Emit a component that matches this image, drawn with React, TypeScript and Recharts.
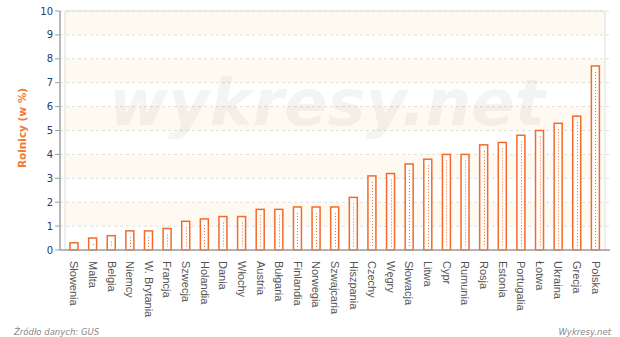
import React from "react";
import { BarChart, Bar, XAxis, YAxis, CartesianGrid, ReferenceArea } from "recharts";

// Share of farmers in total employment, by country (%)
const countries = [
  "Słowenia", "Malta", "Belgia", "Niemcy", "W. Brytania", "Francja", "Szwecja",
  "Holandia", "Dania", "Włochy", "Austria", "Bułgaria", "Finlandia", "Norwegia",
  "Szwajcaria", "Hiszpania", "Czechy", "Węgry", "Słowacja", "Litwa", "Cypr",
  "Rumunia", "Rosja", "Estonia", "Portugalia", "Łotwa", "Ukraina", "Grecja", "Polska",
];
const farmersShare = [
  0.3, 0.5, 0.6, 0.8, 0.8, 0.9, 1.2, 1.3, 1.4, 1.4, 1.7, 1.7, 1.8, 1.8, 1.8,
  2.2, 3.1, 3.2, 3.6, 3.8, 4.0, 4.0, 4.4, 4.5, 4.8, 5.0, 5.3, 5.6, 7.7,
];
const yTicks = [0, 1, 2, 3, 4, 5, 6, 7, 8, 9, 10];
const shadedBands: [number, number][] = [[1, 2], [3, 4], [5, 6], [7, 8], [9, 10]];

const data = countries.map((name, i) => ({ name, value: farmersShare[i] }));

const ORANGE = "#f26b2a";
const W = 620;
const H = 337;

const DottedBar = (props: any) => {
  const { x, y, width, height } = props;
  const cx = Math.round(x + width / 2) + 0.5;
  const y1 = y + 6;
  const y2 = y + height - 3;
  return (
    <g>
      <rect x={x} y={y} width={width} height={height} fill="#ffffff" stroke={ORANGE} strokeWidth={1.5} />
      {y2 > y1 && (
        <line x1={cx} x2={cx} y1={y1} y2={y2} stroke={ORANGE} strokeWidth={1} strokeDasharray="1 2" />
      )}
    </g>
  );
};

const RotatedTick = (props: any) => {
  const { x, y, payload } = props;
  return (
    <text
      x={0}
      y={0}
      transform={`translate(${x},${y + 3}) rotate(90)`}
      textAnchor="start"
      dominantBaseline="central"
      fontSize={11}
      fill="#555555"
      fontFamily="'Liberation Sans', Arial, sans-serif"
    >
      {payload.value}
    </text>
  );
};

export default function App() {
  return (
    <div style={{ position: "absolute", left: 0, top: 0, width: W, height: H, background: "#ffffff" }}>
      <BarChart
        width={W}
        height={H}
        data={data}
        margin={{ top: 11, right: 10, bottom: 0, left: 0 }}
        barCategoryGap={0}
      >
        {shadedBands.map(([a, b]) => (
          <ReferenceArea key={a} y1={a} y2={b} fill="#ffeecc" fillOpacity={0.28} stroke="none" ifOverflow="hidden" />
        ))}
        <CartesianGrid vertical={false} stroke="#dcdcdc" strokeDasharray="3 3" />
        <ReferenceArea y1={0} y2={10} fill="none" stroke="#dddddd" strokeWidth={1} />
        <XAxis
          dataKey="name"
          interval={0}
          height={87}
          padding={{ left: 5, right: 5 }}
          tick={<RotatedTick />}
          tickLine={false}
          axisLine={{ stroke: "#a0a0a0", strokeWidth: 1.5 }}
        />
        <YAxis
          width={60}
          domain={[0, 10]}
          ticks={yTicks}
          interval={0}
          tickSize={5}
          tickLine={{ stroke: "#a0a0a0" }}
          axisLine={{ stroke: "#a0a0a0", strokeWidth: 1.5 }}
          tick={{ fill: "#23406e", fontSize: 10, fontFamily: "'DejaVu Sans', Verdana, sans-serif" }}
        />
        <Bar dataKey="value" barSize={8} shape={<DottedBar />} isAnimationActive={false} />
      </BarChart>
      <svg
        width={W}
        height={H}
        style={{ position: "absolute", left: 0, top: 0, pointerEvents: "none" }}
      >
        <text
          x={109}
          y={125}
          fontSize={64}
          fontWeight="bold"
          fontStyle="italic"
          fontFamily="'DejaVu Sans', Verdana, sans-serif"
          fill="#000000"
          fillOpacity={0.045}
        >
          wykresy.net
        </text>
        <text
          transform="translate(26,128) rotate(-90)"
          textAnchor="middle"
          fontSize={10.5}
          fontWeight="bold"
          fill="#f07a3a"
          fontFamily="'DejaVu Sans', Verdana, sans-serif"
        >
          Rolnicy (w %)
        </text>
        <text x={14} y={335} fontSize={8.5} fontStyle="italic" fill="#888888" fontFamily="'DejaVu Sans', Verdana, sans-serif">
          Źródło danych: GUS
        </text>
        <text x={611} y={335} textAnchor="end" fontSize={8.5} fontStyle="italic" fill="#888888" fontFamily="'DejaVu Sans', Verdana, sans-serif">
          Wykresy.net
        </text>
      </svg>
    </div>
  );
}
